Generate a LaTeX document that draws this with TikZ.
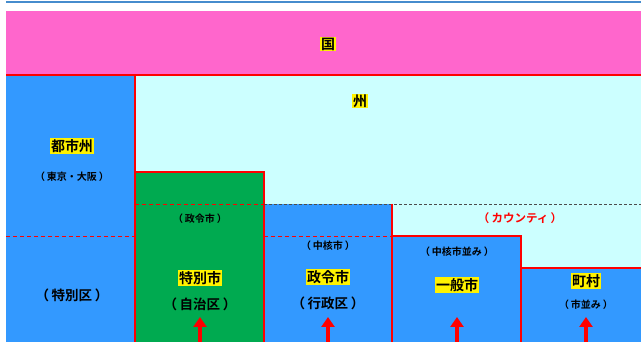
\documentclass[tikz,border=0pt]{standalone}
\usepackage{fontspec}
\setmainfont{Noto Sans CJK JP}[BoldFont={* Bold}]
\usetikzlibrary{arrows.meta}
\definecolor{pinkc}{RGB}{255,102,204}
\definecolor{bluec}{RGB}{51,153,255}
\definecolor{cyanc}{RGB}{204,255,255}
\definecolor{greenc}{RGB}{0,170,80}
\definecolor{topline}{RGB}{70,140,205}
\definecolor{redc}{RGB}{255,0,0}
\newcommand{\pp}[1]{（\hspace{.2em}#1\hspace{.2em}）}
\tikzset{
  hl/.style={fill=yellow,inner sep=1pt,font=\bfseries\fontsize{14}{15}\selectfont},
  sub/.style={inner sep=0pt,font=\bfseries\fontsize{10}{11}\selectfont},
  subl/.style={inner sep=0pt,font=\bfseries\fontsize{13.5}{14}\selectfont},
  redline/.style={draw=redc,line width=1.2pt},
  reddash/.style={draw=redc,line width=0.9pt,dash pattern=on 4pt off 3pt},
  greydash/.style={draw=black!70,line width=0.6pt,dash pattern=on 3pt off 2pt},
  uparrow/.style={draw=redc,line width=4pt,-{Triangle[width=13pt,length=10pt]}},
}
\begin{document}
\begin{tikzpicture}[x=1pt,y=-1pt]
\useasboundingbox (0,0) rectangle (641,342);
% top line
\draw[topline,line width=2pt] (6,2) -- (641,2);
% pink
\fill[pinkc] (6,11) rectangle (641,75);
% cyan
\fill[cyanc] (135,75) rectangle (641,342);
% left blue
\fill[bluec] (6,75) rectangle (135,342);
% green
\fill[greenc] (135,172) rectangle (264,342);
% blue boxes
\fill[bluec] (264,204) rectangle (392,342);
\fill[bluec] (392,236) rectangle (521,342);
\fill[bluec] (521,268) rectangle (641,342);
% lines
\draw[redline] (6,75) -- (641,75);
\draw[redline] (135,75) -- (135,342);
\draw[redline] (135,172) -- (264,172) -- (264,342);
\draw[greydash] (264,204) -- (641,204);
\draw[reddash] (135,204) -- (264,204);
\draw[reddash] (6,236) -- (135,236);
\draw[reddash] (264,236) -- (392,236);
\draw[redline] (392,204) -- (392,342);
\draw[redline] (392,236) -- (521,236) -- (521,268) -- (641,268);
\draw[redline] (521,268) -- (521,342);
% texts
\node[hl] (kuni) at (328,44) {国};
\node[hl] (shu) at (360,101) {州};
\node[hl] (toshishu) at (72,146) {都市州};
\node[sub] (tokyo) at (72,177) {\pp{東京・大阪}};
\node[subl] (tokubetsuku) at (72,295) {\pp{特別区}};
\node[sub] (seirei1) at (200,219) {\pp{政令市}};
\node[hl] (tokubetsushi) at (200,278) {特別市};
\node[subl] (jichiku) at (200,304) {\pp{自治区}};
\node[sub] (chukaku) at (328,246) {\pp{中核市}};
\node[hl] (seirei2) at (328,277) {政令市};
\node[subl] (gyoseiku) at (328,303) {\pp{行政区}};
\node[inner sep=0pt,font=\bfseries\fontsize{11.5}{12}\selectfont,text=redc] (county) at (520,218) {\pp{カウンティ}};
\node[sub] (chukakunami) at (457,252) {\pp{中核市並み}};
\node[hl] (ippan) at (457,285) {一般市};
\node[hl] (chouson) at (586,281) {町村};
\node[sub] (shinami) at (586,305) {\pp{市並み}};
% arrows
\coordinate (a1b) at (200,343); \coordinate (a1t) at (200,317);
\coordinate (a2b) at (328,343); \coordinate (a2t) at (328,317);
\coordinate (a3b) at (457,343); \coordinate (a3t) at (457,317);
\coordinate (a4b) at (586,343); \coordinate (a4t) at (586,317);
\draw[uparrow] (a1b) -- (a1t);
\draw[uparrow] (a2b) -- (a2t);
\draw[uparrow] (a3b) -- (a3t);
\draw[uparrow] (a4b) -- (a4t);
\end{tikzpicture}
\end{document}
